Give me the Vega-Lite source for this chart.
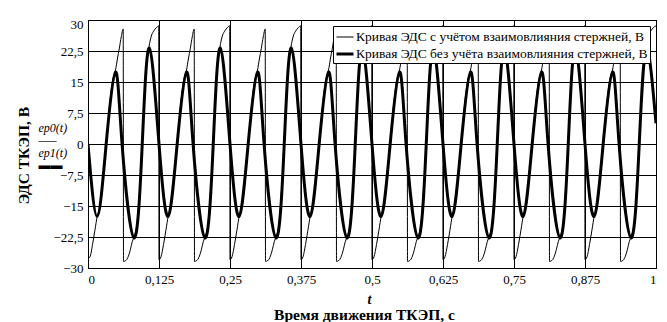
{
"$schema": "https://vega.github.io/schema/vega-lite/v6.json",
"width": 568, "height": 248,
"autosize": {"type": "none"},
"padding": {"left": 88, "top": 20, "right": 11, "bottom": 54},
"background": "white",
"config": {
  "font": "Liberation Serif, Times New Roman, serif",
  "view": {"stroke": "black", "strokeWidth": 1},
  "axis": {"labelFont": "Liberation Serif, Times New Roman, serif", "labelFontSize": 13, "labelColor": "black", "titleFont": "Liberation Serif, Times New Roman, serif", "titleColor": "black", "gridColor": "black", "gridOpacity": 1, "gridWidth": 1, "ticks": false, "domain": false},
  "legend": {"labelFont": "Liberation Serif, Times New Roman, serif"}
},
"datasets": {
"thin": [
{"t":0,"v":-27.6,"s":"a"},{"t":0.0035,"v":-27.3,"s":"a"},{"t":0.008,"v":-24.3,"s":"a"},{"t":0.012,"v":-21,"s":"a"},{"t":0.0165,"v":-17.3,"s":"a"},{"t":0.021,"v":-15.4,"s":"a"},{"t":0.0265,"v":-9,"s":"a"},{"t":0.032,"v":0,"s":"a"},{"t":0.0375,"v":8.7,"s":"a"},{"t":0.043,"v":15.1,"s":"a"},{"t":0.0485,"v":17.9,"s":"a"},{"t":0.052,"v":20.8,"s":"a"},{"t":0.055,"v":23,"s":"a"},{"t":0.0585,"v":25.9,"s":"a"},{"t":0.062,"v":27.8,"s":"a"},
{"t":0.0625,"v":-28.4,"s":"a"},{"t":0.0665,"v":-28.2,"s":"a"},{"t":0.07,"v":-27.5,"s":"a"},{"t":0.0745,"v":-25.6,"s":"a"},{"t":0.078,"v":-23.6,"s":"a"},{"t":0.0815,"v":-22.3,"s":"a"},{"t":0.0855,"v":-20.1,"s":"a"},{"t":0.0905,"v":-11.7,"s":"a"},{"t":0.0955,"v":0,"s":"a"},{"t":0.0995,"v":11.2,"s":"a"},{"t":0.1035,"v":19.6,"s":"a"},{"t":0.1075,"v":23.6,"s":"a"},{"t":0.111,"v":25.9,"s":"a"},{"t":0.1155,"v":27.3,"s":"a"},{"t":0.12,"v":28.1,"s":"a"},{"t":0.1245,"v":28.6,"s":"a"},
{"t":0.125,"v":-28,"s":"a"},{"t":0.1285,"v":-27.3,"s":"a"},{"t":0.133,"v":-24.3,"s":"a"},{"t":0.137,"v":-21,"s":"a"},{"t":0.1415,"v":-17.3,"s":"a"},{"t":0.146,"v":-15.4,"s":"a"},{"t":0.1515,"v":-9,"s":"a"},{"t":0.157,"v":0,"s":"a"},{"t":0.1625,"v":8.7,"s":"a"},{"t":0.168,"v":15.1,"s":"a"},{"t":0.1735,"v":17.9,"s":"a"},{"t":0.177,"v":20.8,"s":"a"},{"t":0.18,"v":23,"s":"a"},{"t":0.1835,"v":25.9,"s":"a"},{"t":0.187,"v":27.8,"s":"a"},
{"t":0.1875,"v":-28.4,"s":"a"},{"t":0.1915,"v":-28.2,"s":"a"},{"t":0.195,"v":-27.5,"s":"a"},{"t":0.1995,"v":-25.6,"s":"a"},{"t":0.203,"v":-23.6,"s":"a"},{"t":0.2065,"v":-22.3,"s":"a"},{"t":0.2105,"v":-20.1,"s":"a"},{"t":0.2155,"v":-11.7,"s":"a"},{"t":0.2205,"v":0,"s":"a"},{"t":0.2245,"v":11.2,"s":"a"},{"t":0.2285,"v":19.6,"s":"a"},{"t":0.2325,"v":23.6,"s":"a"},{"t":0.236,"v":25.9,"s":"a"},{"t":0.2405,"v":27.3,"s":"a"},{"t":0.245,"v":28.1,"s":"a"},{"t":0.2495,"v":28.6,"s":"a"},
{"t":0.25,"v":-28,"s":"a"},{"t":0.2535,"v":-27.3,"s":"a"},{"t":0.258,"v":-24.3,"s":"a"},{"t":0.262,"v":-21,"s":"a"},{"t":0.2665,"v":-17.3,"s":"a"},{"t":0.271,"v":-15.4,"s":"a"},{"t":0.2765,"v":-9,"s":"a"},{"t":0.282,"v":0,"s":"a"},{"t":0.2875,"v":8.7,"s":"a"},{"t":0.293,"v":15.1,"s":"a"},{"t":0.2985,"v":17.9,"s":"a"},{"t":0.302,"v":20.8,"s":"a"},{"t":0.305,"v":23,"s":"a"},{"t":0.3085,"v":25.9,"s":"a"},{"t":0.312,"v":27.8,"s":"a"},
{"t":0.3125,"v":-28.4,"s":"a"},{"t":0.3165,"v":-28.2,"s":"a"},{"t":0.32,"v":-27.5,"s":"a"},{"t":0.3245,"v":-25.6,"s":"a"},{"t":0.328,"v":-23.6,"s":"a"},{"t":0.3315,"v":-22.3,"s":"a"},{"t":0.3355,"v":-20.1,"s":"a"},{"t":0.3405,"v":-11.7,"s":"a"},{"t":0.3455,"v":0,"s":"a"},{"t":0.3495,"v":11.2,"s":"a"},{"t":0.3535,"v":19.6,"s":"a"},{"t":0.3575,"v":23.6,"s":"a"},{"t":0.361,"v":25.9,"s":"a"},{"t":0.3655,"v":27.3,"s":"a"},{"t":0.37,"v":28.1,"s":"a"},{"t":0.3745,"v":28.6,"s":"a"},
{"t":0.375,"v":-28,"s":"a"},{"t":0.3785,"v":-27.3,"s":"a"},{"t":0.383,"v":-24.3,"s":"a"},{"t":0.387,"v":-21,"s":"a"},{"t":0.3915,"v":-17.3,"s":"a"},{"t":0.396,"v":-15.4,"s":"a"},{"t":0.4015,"v":-9,"s":"a"},{"t":0.407,"v":0,"s":"a"},{"t":0.4125,"v":8.7,"s":"a"},{"t":0.418,"v":15.1,"s":"a"},{"t":0.4235,"v":17.9,"s":"a"},{"t":0.427,"v":20.8,"s":"a"},{"t":0.43,"v":23,"s":"a"},{"t":0.4335,"v":25.9,"s":"a"},{"t":0.437,"v":27.8,"s":"a"},
{"t":0.4375,"v":-28.4,"s":"a"},{"t":0.4415,"v":-28.2,"s":"a"},{"t":0.445,"v":-27.5,"s":"a"},{"t":0.4495,"v":-25.6,"s":"a"},{"t":0.453,"v":-23.6,"s":"a"},{"t":0.4565,"v":-22.3,"s":"a"},{"t":0.4605,"v":-20.1,"s":"a"},{"t":0.4655,"v":-11.7,"s":"a"},{"t":0.4705,"v":0,"s":"a"},{"t":0.4745,"v":11.2,"s":"a"},{"t":0.4785,"v":19.6,"s":"a"},{"t":0.4825,"v":23.6,"s":"a"},{"t":0.486,"v":25.9,"s":"a"},{"t":0.4905,"v":27.3,"s":"a"},{"t":0.495,"v":28.1,"s":"a"},{"t":0.4995,"v":28.6,"s":"a"},
{"t":0.5,"v":-28,"s":"a"},{"t":0.5035,"v":-27.3,"s":"a"},{"t":0.508,"v":-24.3,"s":"a"},{"t":0.512,"v":-21,"s":"a"},{"t":0.5165,"v":-17.3,"s":"a"},{"t":0.521,"v":-15.4,"s":"a"},{"t":0.5265,"v":-9,"s":"a"},{"t":0.532,"v":0,"s":"a"},{"t":0.5375,"v":8.7,"s":"a"},{"t":0.543,"v":15.1,"s":"a"},{"t":0.5485,"v":17.9,"s":"a"},{"t":0.552,"v":20.8,"s":"a"},{"t":0.555,"v":23,"s":"a"},{"t":0.5585,"v":25.9,"s":"a"},{"t":0.562,"v":27.8,"s":"a"},
{"t":0.5625,"v":-28.4,"s":"a"},{"t":0.5665,"v":-28.2,"s":"a"},{"t":0.57,"v":-27.5,"s":"a"},{"t":0.5745,"v":-25.6,"s":"a"},{"t":0.578,"v":-23.6,"s":"a"},{"t":0.5815,"v":-22.3,"s":"a"},{"t":0.5855,"v":-20.1,"s":"a"},{"t":0.5905,"v":-11.7,"s":"a"},{"t":0.5955,"v":0,"s":"a"},{"t":0.5995,"v":11.2,"s":"a"},{"t":0.6035,"v":19.6,"s":"a"},{"t":0.6075,"v":23.6,"s":"a"},{"t":0.611,"v":25.9,"s":"a"},{"t":0.6155,"v":27.3,"s":"a"},{"t":0.62,"v":28.1,"s":"a"},{"t":0.6245,"v":28.6,"s":"a"},
{"t":0.625,"v":-28,"s":"a"},{"t":0.6285,"v":-27.3,"s":"a"},{"t":0.633,"v":-24.3,"s":"a"},{"t":0.637,"v":-21,"s":"a"},{"t":0.6415,"v":-17.3,"s":"a"},{"t":0.646,"v":-15.4,"s":"a"},{"t":0.6515,"v":-9,"s":"a"},{"t":0.657,"v":0,"s":"a"},{"t":0.6625,"v":8.7,"s":"a"},{"t":0.668,"v":15.1,"s":"a"},{"t":0.6735,"v":17.9,"s":"a"},{"t":0.677,"v":20.8,"s":"a"},{"t":0.68,"v":23,"s":"a"},{"t":0.6835,"v":25.9,"s":"a"},{"t":0.687,"v":27.8,"s":"a"},
{"t":0.6875,"v":-28.4,"s":"a"},{"t":0.6915,"v":-28.2,"s":"a"},{"t":0.695,"v":-27.5,"s":"a"},{"t":0.6995,"v":-25.6,"s":"a"},{"t":0.703,"v":-23.6,"s":"a"},{"t":0.7065,"v":-22.3,"s":"a"},{"t":0.7105,"v":-20.1,"s":"a"},{"t":0.7155,"v":-11.7,"s":"a"},{"t":0.7205,"v":0,"s":"a"},{"t":0.7245,"v":11.2,"s":"a"},{"t":0.7285,"v":19.6,"s":"a"},{"t":0.7325,"v":23.6,"s":"a"},{"t":0.736,"v":25.9,"s":"a"},{"t":0.7405,"v":27.3,"s":"a"},{"t":0.745,"v":28.1,"s":"a"},{"t":0.7495,"v":28.6,"s":"a"},
{"t":0.75,"v":-28,"s":"a"},{"t":0.7535,"v":-27.3,"s":"a"},{"t":0.758,"v":-24.3,"s":"a"},{"t":0.762,"v":-21,"s":"a"},{"t":0.7665,"v":-17.3,"s":"a"},{"t":0.771,"v":-15.4,"s":"a"},{"t":0.7765,"v":-9,"s":"a"},{"t":0.782,"v":0,"s":"a"},{"t":0.7875,"v":8.7,"s":"a"},{"t":0.793,"v":15.1,"s":"a"},{"t":0.7985,"v":17.9,"s":"a"},{"t":0.802,"v":20.8,"s":"a"},{"t":0.805,"v":23,"s":"a"},{"t":0.8085,"v":25.9,"s":"a"},{"t":0.812,"v":27.8,"s":"a"},
{"t":0.8125,"v":-28.4,"s":"a"},{"t":0.8165,"v":-28.2,"s":"a"},{"t":0.82,"v":-27.5,"s":"a"},{"t":0.8245,"v":-25.6,"s":"a"},{"t":0.828,"v":-23.6,"s":"a"},{"t":0.8315,"v":-22.3,"s":"a"},{"t":0.8355,"v":-20.1,"s":"a"},{"t":0.8405,"v":-11.7,"s":"a"},{"t":0.8455,"v":0,"s":"a"},{"t":0.8495,"v":11.2,"s":"a"},{"t":0.8535,"v":19.6,"s":"a"},{"t":0.8575,"v":23.6,"s":"a"},{"t":0.861,"v":25.9,"s":"a"},{"t":0.8655,"v":27.3,"s":"a"},{"t":0.87,"v":28.1,"s":"a"},{"t":0.8745,"v":28.6,"s":"a"},
{"t":0.875,"v":-28,"s":"a"},{"t":0.8785,"v":-27.3,"s":"a"},{"t":0.883,"v":-24.3,"s":"a"},{"t":0.887,"v":-21,"s":"a"},{"t":0.8915,"v":-17.3,"s":"a"},{"t":0.896,"v":-15.4,"s":"a"},{"t":0.9015,"v":-9,"s":"a"},{"t":0.907,"v":0,"s":"a"},{"t":0.9125,"v":8.7,"s":"a"},{"t":0.918,"v":15.1,"s":"a"},{"t":0.9235,"v":17.9,"s":"a"},{"t":0.927,"v":20.8,"s":"a"},{"t":0.93,"v":23,"s":"a"},{"t":0.9335,"v":25.9,"s":"a"},{"t":0.937,"v":27.8,"s":"a"},
{"t":0.9375,"v":-28.4,"s":"a"},{"t":0.9415,"v":-28.2,"s":"a"},{"t":0.945,"v":-27.5,"s":"a"},{"t":0.9495,"v":-25.6,"s":"a"},{"t":0.953,"v":-23.6,"s":"a"},{"t":0.9565,"v":-22.3,"s":"a"},{"t":0.9605,"v":-20.1,"s":"a"},{"t":0.9655,"v":-11.7,"s":"a"},{"t":0.9705,"v":0,"s":"a"},{"t":0.9745,"v":11.2,"s":"a"},{"t":0.9785,"v":19.6,"s":"a"},{"t":0.9825,"v":23.6,"s":"a"},{"t":0.986,"v":25.9,"s":"a"},{"t":0.9905,"v":27.3,"s":"a"},{"t":0.995,"v":28.1,"s":"a"},{"t":1,"v":28.6,"s":"a"}
],
"thick": [
{"t":0,"v":0,"s":"b"},{"t":0.016,"v":-17.5,"s":"b"},{"t":0.032,"v":0,"s":"b"},{"t":0.0485,"v":17.4,"s":"b"},{"t":0.06,"v":0,"s":"b"},{"t":0.081,"v":-22.7,"s":"b"},{"t":0.0955,"v":0,"s":"b"},{"t":0.108,"v":23.2,"s":"b"},
{"t":0.125,"v":0,"s":"b"},{"t":0.141,"v":-17.5,"s":"b"},{"t":0.157,"v":0,"s":"b"},{"t":0.1735,"v":17.4,"s":"b"},{"t":0.185,"v":0,"s":"b"},{"t":0.206,"v":-22.7,"s":"b"},{"t":0.2205,"v":0,"s":"b"},{"t":0.233,"v":23.2,"s":"b"},
{"t":0.25,"v":0,"s":"b"},{"t":0.266,"v":-17.5,"s":"b"},{"t":0.282,"v":0,"s":"b"},{"t":0.2985,"v":17.4,"s":"b"},{"t":0.31,"v":0,"s":"b"},{"t":0.331,"v":-22.7,"s":"b"},{"t":0.3455,"v":0,"s":"b"},{"t":0.358,"v":23.2,"s":"b"},
{"t":0.375,"v":0,"s":"b"},{"t":0.391,"v":-17.5,"s":"b"},{"t":0.407,"v":0,"s":"b"},{"t":0.4235,"v":17.4,"s":"b"},{"t":0.435,"v":0,"s":"b"},{"t":0.456,"v":-22.7,"s":"b"},{"t":0.4705,"v":0,"s":"b"},{"t":0.483,"v":23.2,"s":"b"},
{"t":0.5,"v":0,"s":"b"},{"t":0.516,"v":-17.5,"s":"b"},{"t":0.532,"v":0,"s":"b"},{"t":0.5485,"v":17.4,"s":"b"},{"t":0.56,"v":0,"s":"b"},{"t":0.581,"v":-22.7,"s":"b"},{"t":0.5955,"v":0,"s":"b"},{"t":0.608,"v":23.2,"s":"b"},
{"t":0.625,"v":0,"s":"b"},{"t":0.641,"v":-17.5,"s":"b"},{"t":0.657,"v":0,"s":"b"},{"t":0.6735,"v":17.4,"s":"b"},{"t":0.685,"v":0,"s":"b"},{"t":0.706,"v":-22.7,"s":"b"},{"t":0.7205,"v":0,"s":"b"},{"t":0.733,"v":23.2,"s":"b"},
{"t":0.75,"v":0,"s":"b"},{"t":0.766,"v":-17.5,"s":"b"},{"t":0.782,"v":0,"s":"b"},{"t":0.7985,"v":17.4,"s":"b"},{"t":0.81,"v":0,"s":"b"},{"t":0.831,"v":-22.7,"s":"b"},{"t":0.8455,"v":0,"s":"b"},{"t":0.858,"v":23.2,"s":"b"},
{"t":0.875,"v":0,"s":"b"},{"t":0.891,"v":-17.5,"s":"b"},{"t":0.907,"v":0,"s":"b"},{"t":0.9235,"v":17.4,"s":"b"},{"t":0.935,"v":0,"s":"b"},{"t":0.956,"v":-22.7,"s":"b"},{"t":0.9705,"v":0,"s":"b"},{"t":0.983,"v":23.2,"s":"b"},
{"t":1,"v":5,"s":"b"}
]
},
"layer": [
{
  "data": {"name": "thin"},
  "mark": {"type": "line", "color": "black", "interpolate": "monotone", "clip": true},
  "encoding": {
    "x": {"field": "t", "type": "quantitative", "scale": {"domain": [0, 1], "nice": false, "zero": false},
      "axis": {"orient": "bottom", "values": [0, 0.125, 0.25, 0.375, 0.5, 0.625, 0.75, 0.875, 1], "grid": true, "labelPadding": 5, "labelFlush": true,
        "labelExpr": "replace(format(datum.value, '~g'), '.', ',')",
        "title": "Время движения ТКЭП, с", "titleFontSize": 15.5, "titleFontWeight": "bold", "titleX": 276, "titleY": 51, "titleBaseline": "alphabetic"}},
    "y": {"field": "v", "type": "quantitative", "scale": {"domain": [-30, 30], "nice": false, "zero": false},
      "axis": {"orient": "left", "values": [-30, -22.5, -15, -7.5, 0, 7.5, 15, 22.5, 30], "grid": true, "labelPadding": 5,
        "labelExpr": "replace(format(datum.value, '~g'), '.', ',')",
        "labelOffset": {"condition": {"test": "datum.value == 30", "value": 4}, "value": 0},
        "title": "ЭДС ТКЭП, В", "titleFontSize": 15.5, "titleFontWeight": "bold", "titleX": -60, "titleY": 135, "titleBaseline": "alphabetic"}},
    "strokeWidth": {"field": "s", "type": "nominal", "scale": {"domain": ["a", "b"], "range": [1, 3]},
      "legend": {"orient": "top-right", "offset": 6, "title": null, "fillColor": "white", "strokeColor": "black", "padding": 2,
        "labelFont": "Liberation Serif, Times New Roman, serif", "labelFontSize": 13.5, "labelColor": "black", "symbolType": "stroke", "symbolStrokeColor": "black",
        "symbolSize": 289, "labelOffset": 1, "rowPadding": -5, "labelLimit": 400,
        "labelExpr": "datum.label == 'a' ? 'Кривая ЭДС с учётом взаимовлияния стержней, В' : 'Кривая ЭДС без учёта взаимовлияния стержней, В'"}}
  }
},
{
  "data": {"name": "thick"},
  "mark": {"type": "line", "color": "black", "interpolate": "natural", "clip": true},
  "encoding": {
    "x": {"field": "t", "type": "quantitative", "scale": {"domain": [0, 1], "nice": false, "zero": false},
      "axis": {"orient": "bottom", "labels": false, "grid": false, "title": "t", "titleFontSize": 14, "titleFontWeight": "bold", "titleFontStyle": "italic", "titleX": 281, "titleY": 35, "titleBaseline": "alphabetic"}},
    "y": {"field": "v", "type": "quantitative", "scale": {"domain": [-30, 30], "nice": false, "zero": false},
      "axis": {"orient": "left", "labels": false, "grid": false, "title": ["ep0(t)", "–––", "ep1(t)", "▬▬"], "titleAngle": 0, "titleAlign": "left", "titleBaseline": "alphabetic", "titleX": -50, "titleY": 111, "titleLineHeight": 12.5, "titleFontSize": 12, "titleFontWeight": "normal", "titleFontStyle": "italic"}},
    "strokeWidth": {"field": "s", "type": "nominal", "scale": {"domain": ["a", "b"], "range": [1, 3]}}
  }
}
],
"resolve": {"axis": {"x": "independent", "y": "independent"}}
}
